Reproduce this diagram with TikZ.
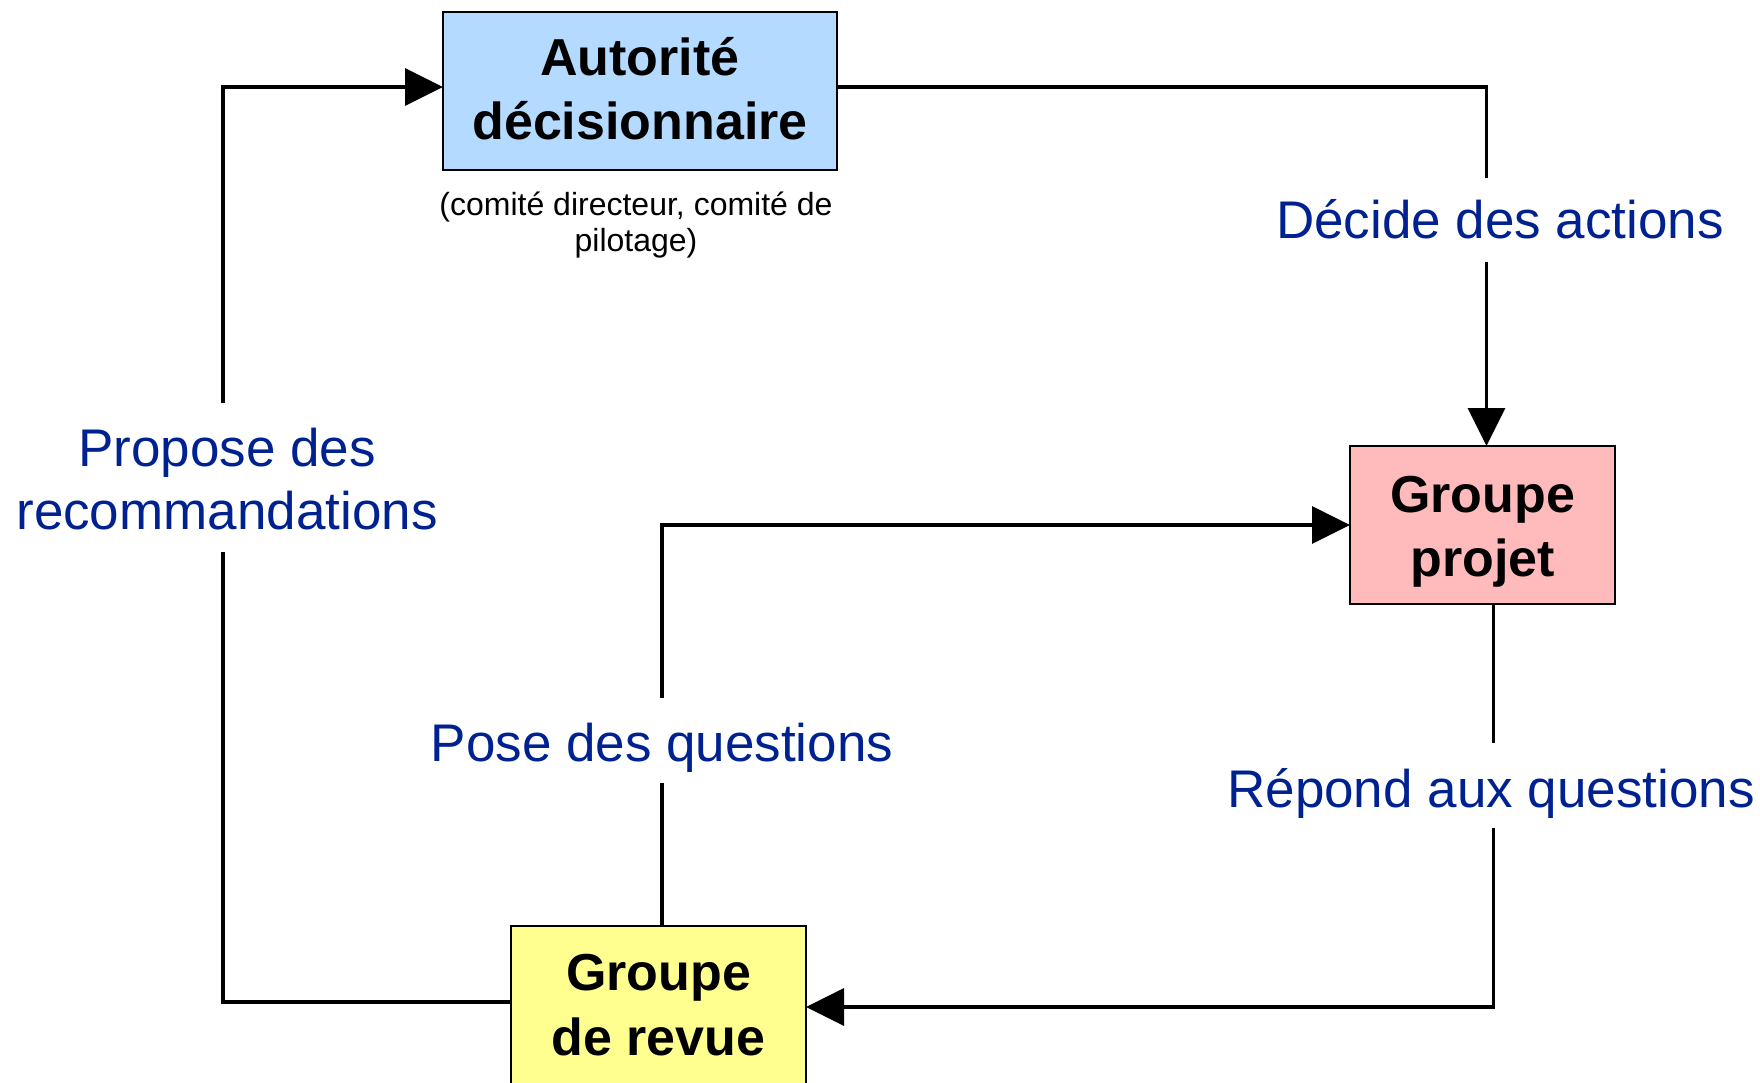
\documentclass[tikz,border=0pt]{standalone}
\usepackage{fontspec}
\setmainfont{Liberation Sans}
\usetikzlibrary{arrows.meta,calc}
\definecolor{lblblue}{RGB}{0,34,145}
\definecolor{boxblue}{RGB}{181,218,255}
\definecolor{boxpink}{RGB}{255,187,187}
\definecolor{boxyellow}{RGB}{255,255,143}
\tikzset{
 box/.style={draw=black, line width=2pt, inner sep=0pt, outer sep=0pt},
 conn/.style={line width=3.2pt, draw=black},
 tip/.style={-{Triangle[length=38pt,width=37pt]}},
 lbl/.style={fill=white, inner sep=0pt, text=lblblue, font=\fontsize{53}{63}\selectfont},
}
\begin{document}
\begin{tikzpicture}[x=1pt,y=-1pt]
\path[use as bounding box] (0,0) rectangle (1760,1082);
\clip (0,0) rectangle (1760,1082);
\node[box, fill=boxblue, minimum width=394pt, text height=127pt, text depth=31pt] (A) at (640,91)
  {\fontsize{52}{64}\selectfont\bfseries\begin{tabular}[b]{@{}c@{}}Autorité\\décisionnaire\end{tabular}};
\node[box, fill=boxpink, minimum width=265pt, text height=130pt, text depth=28pt] (P) at (1482.5,525)
  {\fontsize{52}{64}\selectfont\bfseries\begin{tabular}[b]{@{}c@{}}Groupe\\projet\end{tabular}};
\node[box, fill=boxyellow, minimum width=295pt, text height=129pt, text depth=29pt] (R) at (658.5,1005)
  {\fontsize{52}{65}\selectfont\bfseries\begin{tabular}[b]{@{}c@{}}Groupe\\de revue\end{tabular}};
\node[anchor=base, inner sep=0pt, font=\fontsize{32}{36}\selectfont] (sub) at (636,251)
  {\begin{tabular}[b]{@{}c@{}}(comité directeur, comité de\\pilotage)\end{tabular}};
\coordinate (lx) at (223,0);
\coordinate (aw) at ([yshift=4pt]A.west);
\coordinate (ae) at ([yshift=4pt]A.east);
\draw[conn,tip] ([yshift=3pt]R.west) -| (lx |- aw) -- (aw);
\draw[conn,tip] (ae) -| ([xshift=4pt]P.north);
\draw[conn,tip] ([xshift=3.5pt]R.north) |- (P.west);
\draw[conn,tip] ([xshift=11pt]P.south) |- ([yshift=-2pt]R.east);
\node[lbl, text height=60pt, text depth=24pt] (dec) at (1500,220) {Décide des actions};
\node[lbl, text height=64pt, text depth=21pt] (rep) at (1491,785.5) {Répond aux questions};
\node[lbl, text height=63pt, text depth=22pt] (pos) at (662,740.5) {Pose des questions};
\node[lbl, text height=126pt, text depth=23pt] (pro) at (227,477.5)
  {\begin{tabular}[b]{@{}c@{}}Propose des\\recommandations\end{tabular}};
\end{tikzpicture}
\end{document}
